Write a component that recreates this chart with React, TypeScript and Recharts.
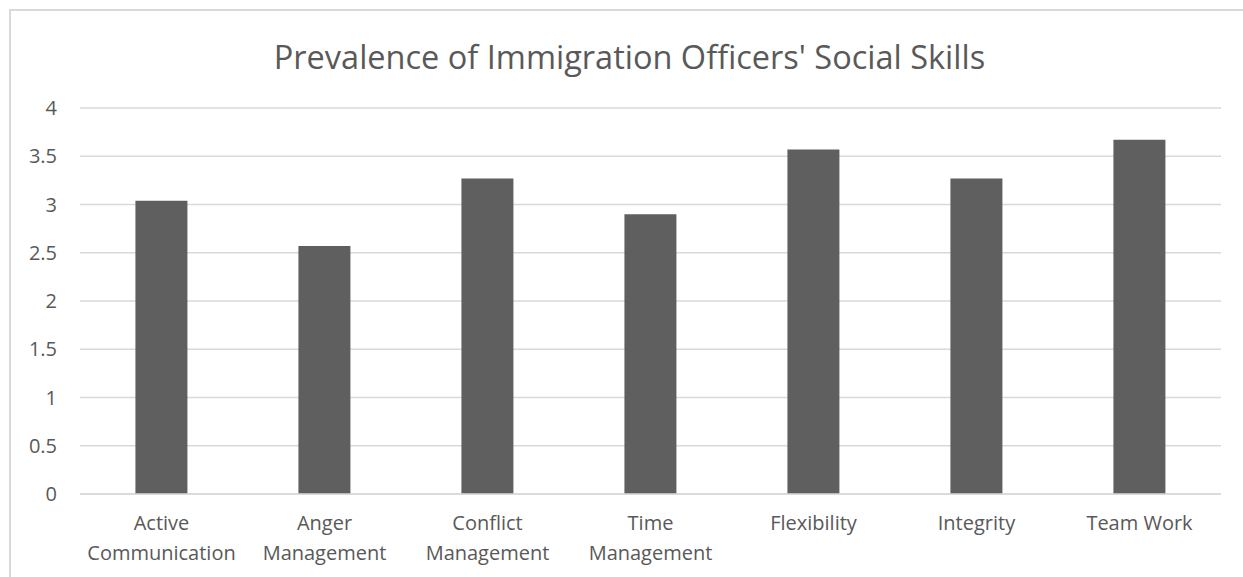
import React from 'react'
import { Bar, BarChart, CartesianGrid, XAxis, YAxis } from 'recharts'

const skills = [
   'Active Communication',
   'Anger Management',
   'Conflict Management',
   'Time Management',
   'Flexibility',
   'Integrity',
   'Team Work',
]
const skillLines = [
   ['Active', 'Communication'],
   ['Anger', 'Management'],
   ['Conflict', 'Management'],
   ['Time', 'Management'],
   ['Flexibility'],
   ['Integrity'],
   ['Team Work'],
]
const prevalence = [3.04, 2.57, 3.27, 2.9, 3.57, 3.27, 3.67]
const yTicks = [0, 0.5, 1, 1.5, 2, 2.5, 3, 3.5, 4]

const data = skills.map((name, i) => ({ name, value: prevalence[i] }))

const FONT = '"Open Sans", sans-serif'
const TEXT = '#595959'

const SkillTick = (props: any) => {
   const { x, y, index } = props
   const lines = skillLines[index] || []
   return (
      <text x={x} y={y} textAnchor="middle" fill={TEXT} fontSize={20} fontFamily={FONT}>
         {lines.map((l, i) => (
            <tspan key={i} x={x} dy={i === 0 ? 28 : 30}>
               {l}
            </tspan>
         ))}
      </text>
   )
}

const ValueTick = (props: any) => {
   const { x, y, payload } = props
   return (
      <text x={x} y={y} dy="0.35em" textAnchor="end" fill={TEXT} fontSize={20} fontFamily={FONT}>
         {payload.value}
      </text>
   )
}

export default function App() {
   return (
      <div style={{ position: 'absolute', left: 0, top: 0, width: 1243, height: 577, background: '#fff' }}>
         <div
            style={{
               position: 'absolute',
               left: 9,
               top: 9,
               width: 1234,
               height: 568,
               borderTop: '2px solid #d9d9d9',
               borderLeft: '2px solid #d9d9d9',
               boxSizing: 'border-box',
            }}
         />
         <div
            style={{
               position: 'absolute',
               left: 0,
               top: 39,
               width: 1259,
               textAlign: 'center',
               fontFamily: FONT,
               fontSize: 32.5,
               color: TEXT,
               lineHeight: '36px',
            }}
         >
            Prevalence of Immigration Officers' Social Skills
         </div>
         <div style={{ position: 'absolute', left: 0, top: 0 }}>
            <BarChart
               width={1243}
               height={577}
               data={data}
               margin={{ top: 108, right: 22, bottom: 0, left: 20 }}
               barCategoryGap="34%"
            >
               <CartesianGrid vertical={false} stroke="#d9d9d9" strokeWidth={1.5} />
               <XAxis
                  dataKey="name"
                  tick={<SkillTick />}
                  tickLine={false}
                  axisLine={{ stroke: '#d9d9d9', strokeWidth: 1.5 }}
                  interval={0}
                  height={83}
               />
               <YAxis
                  width={60}
                  domain={[0, 4]}
                  ticks={yTicks}
                  tickLine={false}
                  axisLine={false}
                  tickMargin={17}
                  tick={<ValueTick />}
               />
               <Bar dataKey="value" fill="#5f5f5f" isAnimationActive={false} />
            </BarChart>
         </div>
      </div>
   )
}
